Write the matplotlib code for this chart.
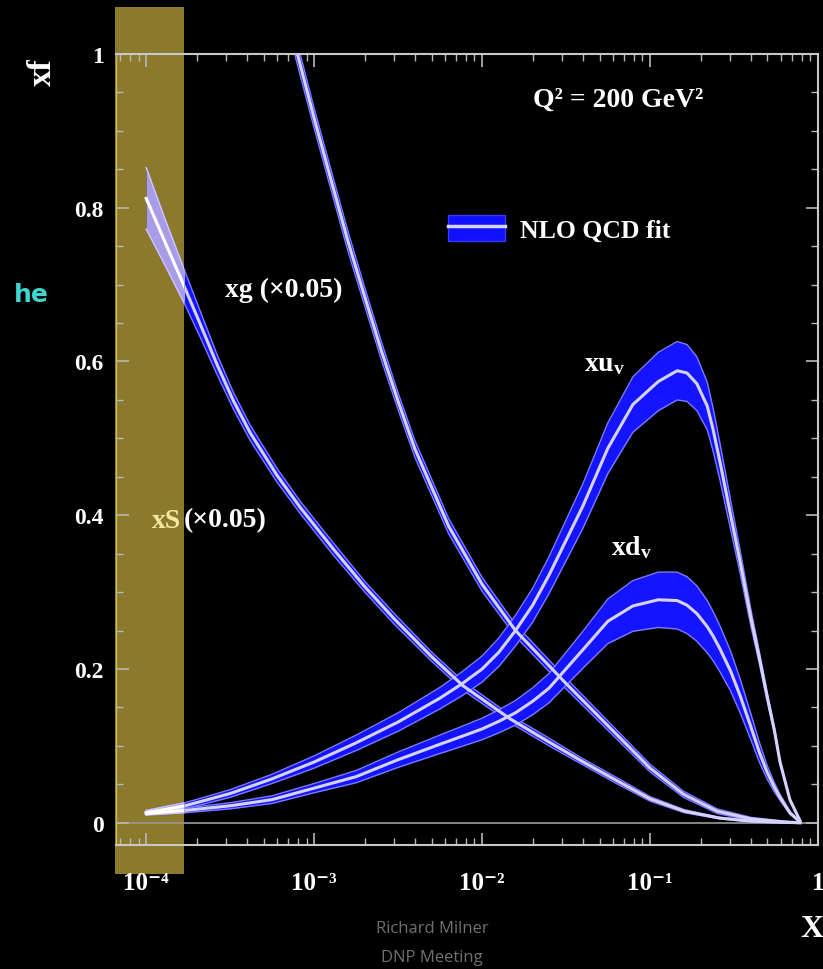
import numpy as np
import matplotlib.pyplot as plt
from matplotlib.patches import Rectangle, Patch
from matplotlib.lines import Line2D
from matplotlib.ticker import FixedLocator, FixedFormatter, MultipleLocator, LogLocator, NullFormatter

plt.rcParams['font.family'] = ['Liberation Serif', 'DejaVu Serif']
plt.rcParams['font.weight'] = 'bold'
plt.rcParams['mathtext.fontset'] = 'custom'
plt.rcParams['mathtext.rm'] = 'Liberation Serif:bold'
plt.rcParams['mathtext.it'] = 'Liberation Serif:bold'
plt.rcParams['mathtext.bf'] = 'Liberation Serif:bold'

# ---- data ----
# gluon, x g (x 0.05)
x_g = [6.31e-4, 7.94e-4, 1.0e-3, 1.26e-3, 1.58e-3, 2.0e-3, 2.51e-3, 3.16e-3, 3.98e-3, 6.31e-3,
       1.0e-2, 1.58e-2, 3.16e-2, 5.62e-2, 0.10, 0.158, 0.251, 0.398, 0.631, 0.78]
xg = [1.084, 1.0, 0.916, 0.836, 0.758, 0.684, 0.614, 0.548, 0.486, 0.386,
      0.31, 0.25, 0.181, 0.126, 0.071, 0.037, 0.015, 0.005, 0.001, 0.0]
xg_err = [0.014, 0.014, 0.013, 0.013, 0.013, 0.012, 0.012, 0.011, 0.011, 0.010,
          0.009, 0.008, 0.007, 0.006, 0.005, 0.004, 0.003, 0.002, 0.001, 0.0]

# sea quarks, x S (x 0.05)
x_s = [1.0e-4, 1.3e-4, 1.68e-4, 2.1e-4, 2.65e-4, 3.3e-4, 4.16e-4, 6.0e-4, 8.26e-4, 1.3e-3,
       2.0e-3, 3.0e-3, 5.0e-3, 7.71e-3, 1.47e-2, 2.5e-2, 4.0e-2, 6.3e-2, 0.10, 0.16,
       0.26, 0.40, 0.60, 0.78]
xs = [0.812, 0.754, 0.698, 0.648, 0.595, 0.549, 0.507, 0.452, 0.41, 0.356,
      0.307, 0.265, 0.216, 0.178, 0.135, 0.105, 0.079, 0.055, 0.031, 0.015,
      0.006, 0.002, 0.0005, 0.0]
xs_err = [0.04, 0.03, 0.022, 0.017, 0.013, 0.011, 0.010, 0.009, 0.008, 0.008,
          0.007, 0.007, 0.006, 0.006, 0.005, 0.005, 0.004, 0.004, 0.003, 0.002,
          0.001, 0.001, 0.0005, 0.0]

# valence quarks
x_v = [1.0e-4, 1.7e-4, 3.16e-4, 5.6e-4, 1.0e-3, 1.78e-3, 3.16e-3, 5.6e-3, 7.5e-3, 1.0e-2,
       1.26e-2, 1.58e-2, 2.0e-2, 2.5e-2, 3.98e-2, 5.6e-2, 7.9e-2, 0.112, 0.145, 0.166,
       0.19, 0.219, 0.237, 0.261, 0.302, 0.344, 0.398, 0.447, 0.497, 0.55,
       0.594, 0.68, 0.78]
xuv = [0.013, 0.022, 0.038, 0.057, 0.079, 0.104, 0.131, 0.162, 0.18, 0.20,
       0.222, 0.25, 0.283, 0.322, 0.412, 0.487, 0.544, 0.574, 0.588, 0.585,
       0.571, 0.542, 0.512, 0.469, 0.40, 0.339, 0.267, 0.215, 0.165, 0.12,
       0.079, 0.03, 0.003]
xuv_err = [0.003, 0.004, 0.005, 0.006, 0.008, 0.010, 0.012, 0.014, 0.0155, 0.017,
           0.0185, 0.020, 0.022, 0.024, 0.029, 0.033, 0.036, 0.038, 0.038, 0.037,
           0.035, 0.031, 0.028, 0.024, 0.019, 0.015, 0.011, 0.008, 0.006, 0.004,
           0.003, 0.001, 0.0]
xdv = [0.012, 0.016, 0.022, 0.030, 0.045, 0.060, 0.082, 0.102, 0.112, 0.122,
       0.132, 0.143, 0.158, 0.175, 0.225, 0.262, 0.282, 0.290, 0.289, 0.283,
       0.272, 0.255, 0.243, 0.226, 0.197, 0.165, 0.125, 0.092, 0.066, 0.046,
       0.033, 0.013, 0.001]
xdv_err = [0.002, 0.003, 0.004, 0.005, 0.006, 0.008, 0.010, 0.012, 0.013, 0.014,
           0.015, 0.016, 0.0175, 0.019, 0.024, 0.029, 0.033, 0.036, 0.037, 0.037,
           0.036, 0.034, 0.032, 0.030, 0.026, 0.022, 0.017, 0.013, 0.009, 0.006,
           0.004, 0.002, 0.0]

xtick_vals = [1e-4, 1e-3, 1e-2, 1e-1, 1]
xtick_labels = ['10⁻⁴', '10⁻³', '10⁻²', '10⁻¹', '1']
ytick_vals = [0, 0.2, 0.4, 0.6, 0.8, 1]
ytick_labels = ['0', '0.2', '0.4', '0.6', '0.8', '1']

# ---- figure ----
W, H = 823, 970
fig = plt.figure(figsize=(W / 100, H / 100), dpi=100, facecolor='black')
ax = fig.add_axes([116 / W, 1 - 846 / H, (818 - 116) / W, (846 - 55) / H])
ax.set_facecolor('none')

# yellow highlight column (behind the curves)
hl = Rectangle((115 / W, 1 - 875 / H), 69 / W, 867 / H, transform=fig.transFigure,
               facecolor='#8b7a2c', edgecolor='none', zorder=-1)
fig.add_artist(hl)


def band(x, y, err, fill, edge, mid, clip=None, z=2):
    x = np.asarray(x)
    y = np.asarray(y)
    e = np.asarray(err)
    arts = [ax.fill_between(x, y - e, y + e, color=fill, lw=0, zorder=z)]
    arts += ax.plot(x, y - e, color=edge, lw=1.0, zorder=z)
    arts += ax.plot(x, y + e, color=edge, lw=1.0, zorder=z)
    arts += ax.plot(x, y, color=mid, lw=2.2, zorder=z + 0.1)
    if clip is not None:
        for a in arts:
            a.set_clip_path(clip)


curves = [(x_s, xs, xs_err), (x_g, xg, xg_err), (x_v, xuv, xuv_err), (x_v, xdv, xdv_err)]
for cx, cy, ce in curves:
    band(cx, cy, ce, '#1414ff', '#7a7aff', '#d6d2ff')
# lighter copies inside the highlighted column
for cx, cy, ce in curves:
    band(cx, cy, ce, '#a99ce6', '#cfc6ff', '#ffffff', clip=hl, z=3)

ax.axhline(0, color='#9a9a9a', lw=1.2, zorder=1)

ax.set_xscale('log')
ax.set_xlim(6.6e-5, 1.0)
ax.set_ylim(-0.029, 1.0)

ax.xaxis.set_major_locator(FixedLocator(xtick_vals))
ax.xaxis.set_major_formatter(FixedFormatter(xtick_labels))
ax.xaxis.set_minor_locator(LogLocator(base=10, subs=np.arange(2, 10)))
ax.xaxis.set_minor_formatter(NullFormatter())
ax.yaxis.set_major_locator(FixedLocator(ytick_vals))
ax.yaxis.set_major_formatter(FixedFormatter(ytick_labels))
ax.yaxis.set_minor_locator(MultipleLocator(0.05))

ax.tick_params(which='both', direction='in', top=True, right=True, colors='#b8b8b8')
ax.tick_params(which='major', length=9, width=1.2)
ax.tick_params(which='minor', length=5, width=1.0)
ax.tick_params(axis='x', which='major', labelcolor='white', labelsize=18, pad=19)
ax.tick_params(axis='y', which='major', labelcolor='white', labelsize=17, pad=9)
for lab in ax.get_xticklabels() + ax.get_yticklabels():
    lab.set_fontweight('bold')

for s in ['top', 'right', 'bottom']:
    ax.spines[s].set_color('#c8c8c8')
    ax.spines[s].set_linewidth(1.5)
ax.spines['left'].set_color('#cbb85e')
ax.spines['left'].set_linewidth(1.0)

# axis titles
fig.text(42 / W, 1 - 72 / H, 'xf', rotation=90, color='white', fontsize=24,
         fontweight='bold', ha='center', va='center')
fig.text(812 / W, 1 - 930 / H, 'X', color='white', fontsize=23,
         fontweight='bold', ha='center', va='center')

# annotations
fig.text(618 / W, 1 - 100 / H, 'Q² = 200 GeV²', color='white', fontsize=20,
         fontweight='bold', ha='center', va='center')
fig.text(284 / W, 1 - 290 / H, 'xg (×0.05)', color='white', fontsize=20,
         fontweight='bold', ha='center', va='center')
fig.text(181 / W, 1 - 521 / H, 'xS', color='#f3e8a0', fontsize=20,
         fontweight='bold', ha='right', va='center')
fig.text(184 / W, 1 - 521 / H, '(×0.05)', color='white', fontsize=20,
         fontweight='bold', ha='left', va='center')
fig.text(605 / W, 1 - 365 / H, '$xu_v$', color='white', fontsize=20,
         ha='center', va='center')
fig.text(632 / W, 1 - 548 / H, '$xd_v$', color='white', fontsize=20,
         ha='center', va='center')

# legend
handle = (Patch(facecolor='#1010ff', edgecolor='#3a3aff'),
          Line2D([], [], color='#d6d2ff', lw=2.5))
leg = ax.legend([handle], ['NLO QCD fit'], loc='center left',
                bbox_to_anchor=(448 / W, 1 - 229 / H), bbox_transform=fig.transFigure,
                frameon=False, fontsize=18.5, handlelength=2.2, handleheight=1.2,
                handletextpad=0.6, borderpad=0, borderaxespad=0)
for t in leg.get_texts():
    t.set_color('white')
    t.set_fontweight('bold')

# slide leftovers
fig.text(14 / W, 1 - 295 / H, 'he', color='#3fd6cf', fontsize=18,
         family=['DejaVu Sans'], ha='left', va='center')
fig.text(432 / W, 1 - 929 / H, 'Richard Milner', color='#707070', fontsize=12,
         family=['Open Sans'], fontweight='normal', ha='center', va='center')
fig.text(432 / W, 1 - 958 / H, 'DNP Meeting', color='#707070', fontsize=12,
         family=['Open Sans'], fontweight='normal', ha='center', va='center')

fig.savefig('out.png', dpi=100, facecolor='black')
